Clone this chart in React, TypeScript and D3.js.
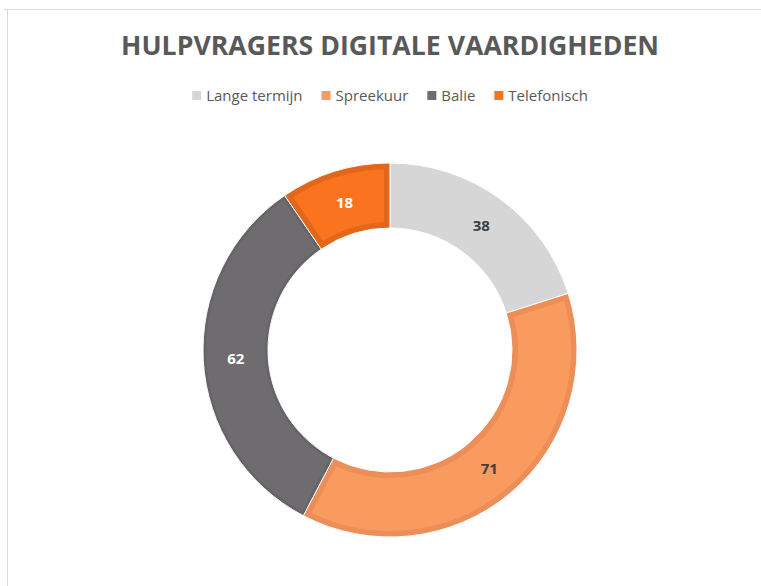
import * as d3 from "d3"
import { useMemo } from "react"

const categories = ["Lange termijn", "Spreekuur", "Balie", "Telefonisch"]
const values = [38, 71, 62, 18]
const fills = ["#D6D6D6", "#F99B5F", "#6E6C6F", "#FA731F"]
const borders = ["#D6D6D6", "#EB8E57", "#666468", "#E3671B"]
const borderWidths = [0, 6, 3, 6]
const labelColors = ["#404040", "#404040", "#FFFFFF", "#FFFFFF"]
const title = "HULPVRAGERS DIGITALE VAARDIGHEDEN"

const W = 761
const H = 586
const cx = 390
const cy = 350
const outerR = 187
const innerR = 122

function textWidth(txt: string, font: string) {
  const c = document.createElement("canvas").getContext("2d")
  if (!c) return txt.length * 7
  c.font = font
  return c.measureText(txt).width
}

export default function App() {
  const pie = d3.pie<number>().sort(null).value(d => d)
  const arcs = pie(values)
  const arc = d3.arc<d3.PieArcDatum<number>>().innerRadius(innerR).outerRadius(outerR)

  // legend layout: square + gap + text, items centered on the chart
  const legendFont = "15px 'Open Sans'"
  const legend = useMemo(() => {
    const sq = 9, gap = 5, between = 19
    const widths = categories.map(c => sq + gap + textWidth(c, legendFont))
    const total = d3.sum(widths) + between * (categories.length - 1)
    let x = cx - total / 2
    return categories.map((c, i) => {
      const item = { name: c, x, color: fills[i] }
      x += widths[i] + between
      return item
    })
  }, [])

  return (
    <svg width={W} height={H} style={{ position: "absolute", left: 0, top: 0, background: "#fff" }}>
      <line x1={4} x2={W} y1={9.5} y2={9.5} stroke="#D9D9D9" />
      <line x1={7.5} x2={7.5} y1={9} y2={H} stroke="#D9D9D9" />

      <text x={cx} y={55} textAnchor="middle" fontFamily="'Open Sans'" fontWeight={700}
        fontSize={27} fill="#595959" textLength={538} lengthAdjust="spacingAndGlyphs">{title}</text>

      <g>
        {legend.map(l => (
          <g key={l.name}>
            <rect x={l.x} y={91} width={9} height={9} fill={l.color} />
            <text x={l.x + 14} y={100.5} fontFamily="'Open Sans'" fontSize={15} fill="#595959">{l.name}</text>
          </g>
        ))}
      </g>

      <g transform={`translate(${cx},${cy})`}>
        <defs>
          {arcs.map((a, i) => (
            <clipPath key={i} id={`clip${i}`}>
              <path d={arc(a) || ""} />
            </clipPath>
          ))}
        </defs>
        {arcs.map((a, i) => (
          <g key={categories[i]}>
            <path d={arc(a) || ""} fill={fills[i]} />
            {borderWidths[i] > 0 && (
              <path d={arc(a) || ""} fill="none" stroke={borders[i]}
                strokeWidth={borderWidths[i] * 2} clipPath={`url(#clip${i})`} />
            )}
            <path d={arc(a) || ""} fill="none" stroke="#fff" strokeWidth={1} />
          </g>
        ))}
        {arcs.map((a, i) => {
          const [x, y] = arc.centroid(a)
          return (
            <text key={i} x={x} y={y} dy="0.36em" textAnchor="middle"
              fontFamily="'Open Sans'" fontWeight={700} fontSize={15} fill={labelColors[i]}>
              {values[i]}
            </text>
          )
        })}
      </g>
    </svg>
  )
}
